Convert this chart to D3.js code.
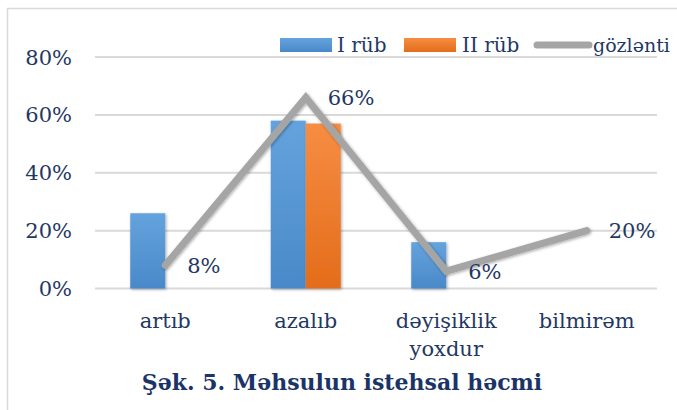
<!DOCTYPE html>
<html>
<head>
<meta charset="utf-8">
<script src="https://cdn.jsdelivr.net/npm/d3@7"></script>
<style>
  body { margin: 0; background: #fff; }
  svg text { font-family: "DejaVu Serif", serif; fill: #1f3864; }
</style>
</head>
<body>
<div id="chart"></div>
<script>
// chart data
const categories = ["artıb", "azalıb", "dəyişiklik yoxdur", "bilmirəm"];
const rub1 = [0.26, 0.58, 0.16, 0];
const rub2 = [0, 0.57, 0, 0];
const gozlenti = [0.08, 0.66, 0.06, 0.20];
const yTicks = [0, 0.2, 0.4, 0.6, 0.8];
const seriesNames = ["I rüb", "II rüb", "gözlənti"];

const W = 677, H = 410;
const margin = {top: 57, right: 20, bottom: 122, left: 95};

const svg = d3.select("#chart").append("svg")
    .attr("width", W)
    .attr("height", H);

// gradients + shadow
const defs = svg.append("defs");
function grad(id, c1, c2) {
    let g = defs.append("linearGradient").attr("id", id)
        .attr("x1", 0).attr("y1", 0).attr("x2", 0).attr("y2", 1);
    g.append("stop").attr("offset", "0%").attr("stop-color", c1);
    g.append("stop").attr("offset", "100%").attr("stop-color", c2);
}
grad("gBlue", "#64a3dd", "#4a89c9");
grad("gOrange", "#f68d43", "#e46c1a");
let f = defs.append("filter").attr("id", "shadow")
    .attr("x", "-20%").attr("y", "-20%").attr("width", "140%").attr("height", "140%");
f.append("feDropShadow").attr("dx", 1).attr("dy", 1).attr("stdDeviation", 1.5)
    .attr("flood-color", "#000").attr("flood-opacity", 0.35);

// outer border
svg.append("rect")
    .attr("x", 7.5).attr("y", 8.5)
    .attr("width", W + 10).attr("height", H + 10)
    .attr("fill", "none")
    .attr("stroke", "#d9d9d9")
    .attr("stroke-width", 1.5);

const plotW = 657 - margin.left;
const plotH = 288.5 - margin.top;

const g = svg.append("g")
    .attr("transform", `translate(${margin.left},${margin.top})`);

const x = d3.scaleBand().domain(categories).range([0, plotW]);
const y = d3.scaleLinear().domain([0, 0.8]).range([plotH, 0]);
const barW = 35;

// gridlines
g.selectAll(".grid").data(yTicks).enter().append("line")
    .attr("x1", 0).attr("x2", plotW)
    .attr("y1", d => y(d)).attr("y2", d => y(d))
    .attr("stroke", "#d9d9d9").attr("stroke-width", 2);

// y labels
g.selectAll(".ytick").data(yTicks).enter().append("text")
    .attr("x", -23)
    .attr("y", d => y(d))
    .attr("dy", "0.36em")
    .attr("text-anchor", "end")
    .style("font-size", "21px")
    .text(d => d3.format(".0%")(d));

// bars
g.selectAll(".b1").data(rub1).enter().append("rect")
    .attr("x", (d, i) => x(categories[i]) + x.bandwidth() / 2 - barW)
    .attr("y", d => y(d))
    .attr("width", barW)
    .attr("height", d => plotH - y(d))
    .attr("fill", "url(#gBlue)")
    .attr("filter", d => d > 0 ? "url(#shadow)" : null);

g.selectAll(".b2").data(rub2).enter().append("rect")
    .attr("x", (d, i) => x(categories[i]) + x.bandwidth() / 2)
    .attr("y", d => y(d))
    .attr("width", barW)
    .attr("height", d => plotH - y(d))
    .attr("fill", "url(#gOrange)")
    .attr("filter", d => d > 0 ? "url(#shadow)" : null);

// expectation line
const line = d3.line()
    .x((d, i) => x(categories[i]) + x.bandwidth() / 2)
    .y(d => y(d));

g.append("path")
    .datum(gozlenti)
    .attr("d", line)
    .attr("fill", "none")
    .attr("stroke", "#a5a5a5")
    .attr("stroke-width", 7)
    .attr("stroke-linecap", "round")
    .attr("stroke-linejoin", "miter")
    .attr("filter", "url(#shadow)");

// data labels
g.selectAll(".dl").data(gozlenti).enter().append("text")
    .attr("x", (d, i) => x(categories[i]) + x.bandwidth() / 2 + 22)
    .attr("y", d => y(d))
    .attr("dy", "0.36em")
    .style("font-size", "21px")
    .text(d => d3.format(".0%")(d));

// category labels
g.selectAll(".cat").data(categories).enter().append("text")
    .attr("x", d => x(d) + x.bandwidth() / 2)
    .attr("y", plotH + 39)
    .attr("text-anchor", "middle")
    .style("font-size", "21px")
    .each(function(d) {
        let words = d.split(" ");
        let t = d3.select(this);
        words.forEach((w, k) => {
            t.append("tspan")
                .attr("x", x(d) + x.bandwidth() / 2)
                .attr("dy", k === 0 ? 0 : 28)
                .text(w);
        });
    });

// legend
const legend = svg.append("g");
legend.append("rect").attr("x", 280).attr("y", 38).attr("width", 52).attr("height", 14)
    .attr("fill", "url(#gBlue)");
legend.append("text").attr("x", 337).attr("y", 52).style("font-size", "20px").text(seriesNames[0]);
legend.append("rect").attr("x", 404).attr("y", 38).attr("width", 52).attr("height", 14)
    .attr("fill", "url(#gOrange)");
legend.append("text").attr("x", 462).attr("y", 52).style("font-size", "20px").text(seriesNames[1]);
legend.append("line").attr("x1", 537).attr("x2", 589).attr("y1", 45).attr("y2", 45)
    .attr("stroke", "#a5a5a5").attr("stroke-width", 7).attr("stroke-linecap", "round");
legend.append("text").attr("x", 593).attr("y", 52).style("font-size", "19px").text(seriesNames[2]);

// title
svg.append("text")
    .attr("x", 342)
    .attr("y", 390)
    .attr("text-anchor", "middle")
    .style("font-size", "22px")
    .style("font-weight", "bold")
    .style("fill", "#1b3468")
    .text("Şək. 5. Məhsulun istehsal həcmi");
</script>
</body>
</html>
